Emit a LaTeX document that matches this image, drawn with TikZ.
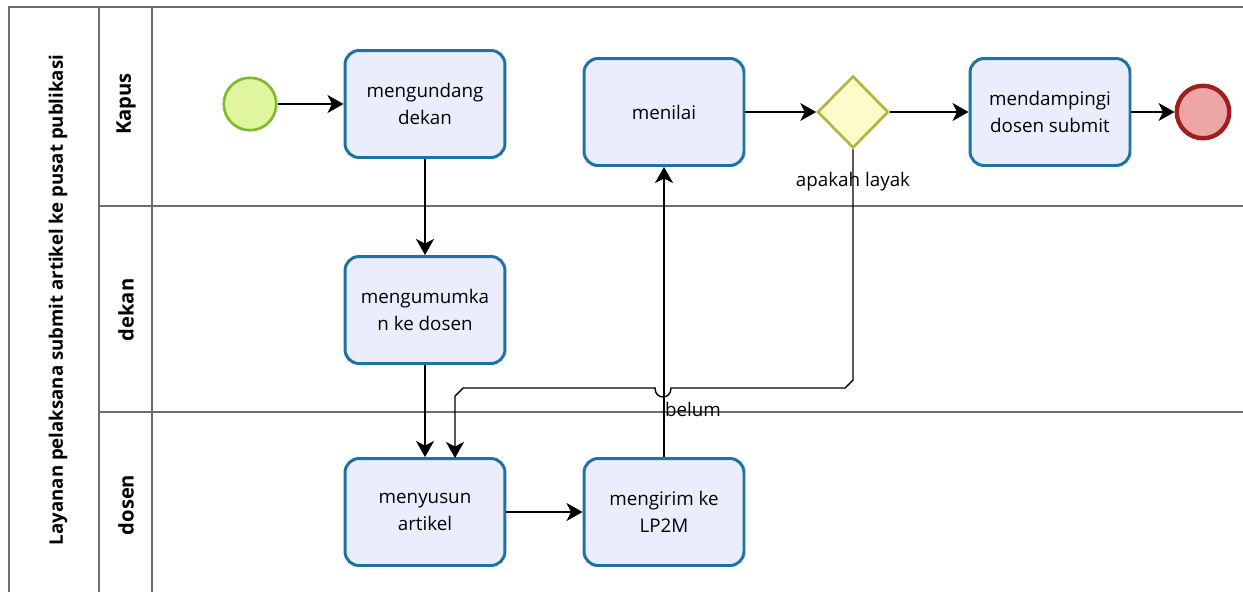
\documentclass[tikz,border=0pt]{standalone}
\usepackage{fontspec}
\setmainfont{Open Sans}
\usetikzlibrary{arrows.meta,shapes.geometric}
\definecolor{taskfill}{HTML}{EAEEFC}
\definecolor{taskline}{HTML}{1E72A4}
\definecolor{startfill}{HTML}{DFF59E}
\definecolor{startline}{HTML}{7DBB2A}
\definecolor{endfill}{HTML}{ECA6A6}
\definecolor{endline}{HTML}{A01E1E}
\definecolor{gatefill}{HTML}{FCFCCB}
\definecolor{gateline}{HTML}{B4B43C}
\definecolor{laneline}{HTML}{6E6E6E}
\tikzset{
	task/.style={draw=taskline,fill=taskfill,line width=1.7pt,rounded corners=8pt,
		minimum width=3.2cm,minimum height=2.14cm,align=center,
		font=\fontsize{10.7}{15}\selectfont},
	startev/.style={circle,draw=startline,fill=startfill,line width=1.5pt,minimum size=1.05cm},
	endev/.style={circle,draw=endline,fill=endfill,line width=2.5pt,minimum size=1.05cm},
	gate/.style={diamond,draw=gateline,fill=gatefill,line width=1.5pt,minimum width=1.42cm,minimum height=1.44cm,inner sep=0pt},
	lanelabel/.style={rotate=90,font=\bfseries\fontsize{11.5}{14}\selectfont},
	flow/.style={line width=0.8pt,-{Stealth[length=3.2mm,width=3.6mm,inset=0.9mm]}},
	lbl/.style={font=\fontsize{10.7}{13}\selectfont}
}
\begin{document}
\begin{tikzpicture}[x=0.02cm,y=-0.02cm]
	\useasboundingbox (0,0) rectangle (1243,592);
	\draw[laneline,line width=1.2pt] (1243,7) -- (9,7) -- (9,592)
	(99,7) -- (99,592)
	(152,7) -- (152,592)
	(99,206) -- (1243,206)
	(99,412) -- (1243,412);
	\node[lanelabel,font=\bfseries\fontsize{10.6}{12}\selectfont] at (58,300) (pool) {Layanan pelaksana submit artikel ke pusat publikasi};
	\node[lanelabel] at (126,104) (kapus) {Kapus};
	\node[lanelabel] at (126,310) (dekan) {dekan};
	\node[lanelabel] at (126,505) (dosen) {dosen};
	\node[startev] at (250,104) (start) {};
	\node[task] at (425,104) (undang) {mengundang\\dekan};
	\node[task] at (664,112) (nilai) {menilai};
	\node[gate] at (853,112) (layak) {};
	\node[task] at (1050,112) (damping) {mendampingi\\dosen submit};
	\node[endev] at (1203,112) (end) {};
	\node[task] at (425,310) (umum) {mengumumka\\n ke dosen};
	\node[task] at (425,512) (susun) {menyusun\\artikel};
	\node[task] at (664,512) (kirim) {mengirim ke\\LP2M};
	\node[lbl] at (853,182) (lbllayak) {apakah layak};
	\node[lbl] at (693,409) (lblbelum) {belum};
	\coordinate (back) at (455,458);
	\path[flow] (start) edge (undang)
	(undang) edge (umum)
	(umum) edge (susun.north)
	(susun) edge (kirim)
	(kirim) edge (nilai)
	(nilai) edge (layak)
	(layak) edge (damping)
	(damping) edge (end);
	\draw[flow] (layak.south) -- (853,380) -- (845,388) -- (671,388)
	.. controls (671,400) and (655,400) .. (655,388)
	-- (463,388) -- (455,396) -- (back);
\end{tikzpicture}
\end{document}
